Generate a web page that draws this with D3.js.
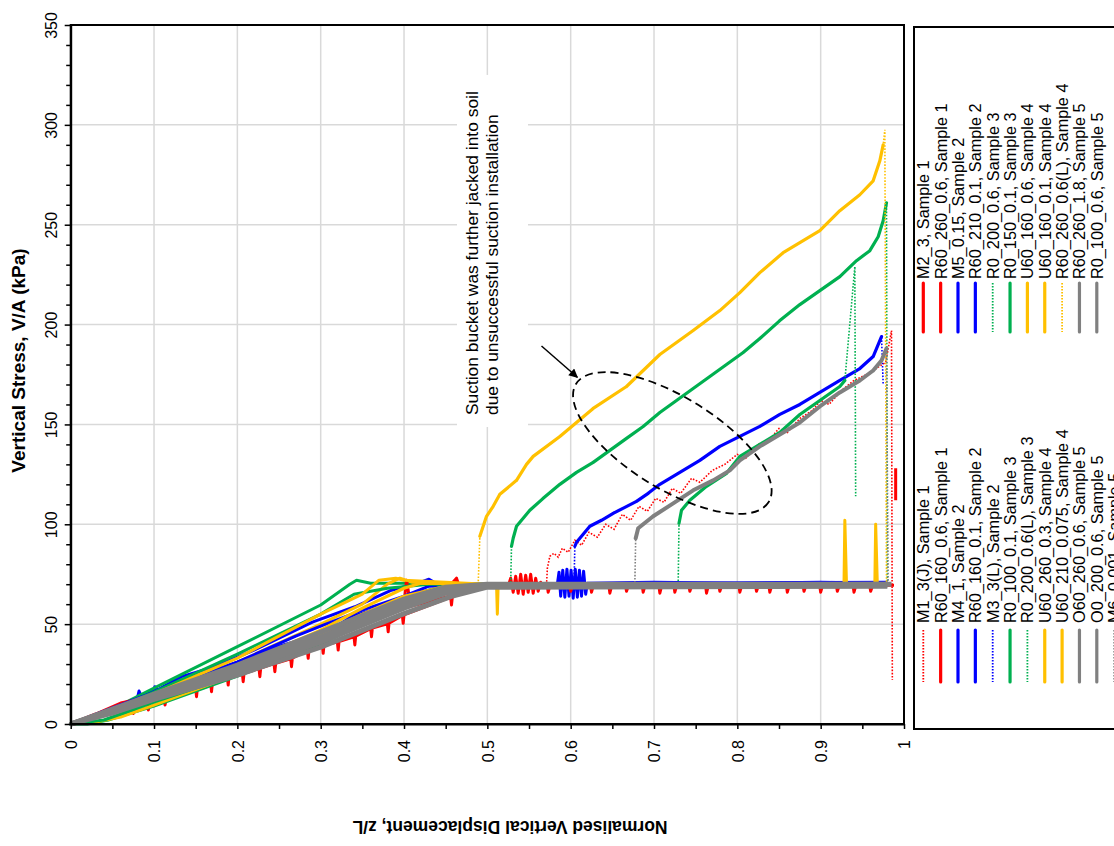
<!DOCTYPE html>
<html><head><meta charset="utf-8">
<script src="https://cdn.jsdelivr.net/npm/d3@7"></script>
<style>
body{margin:0;background:#fff;}
svg{display:block;font-family:"Liberation Sans",Arial,sans-serif;}
</style>
</head><body>
<svg id="c" width="1114" height="846"></svg>
<script>
// ---------- axis ticks ----------
const xTicks = [0,0.1,0.2,0.3,0.4,0.5,0.6,0.7,0.8,0.9,1];
const xTickLabels = ["0","0.1","0.2","0.3","0.4","0.5","0.6","0.7","0.8","0.9","1"];
const xMinor = [0.05,0.15,0.25,0.35,0.45,0.55,0.65,0.75,0.85,0.95];
const yTicks = [0,50,100,150,200,250,300,350];
const yMinor = [10,20,30,40,60,70,80,90,110,120,130,140,160,170,180,190,210,220,230,240,260,270,280,290,310,320,330,340];

const xTitle = "Normalised Vertical Displacement, z/L";
const yTitle = "Vertical Stress, V/A (kPa)";

// ---------- series names (legend order) ----------
const seriesNames = [
 "M1_3(J), Sample 1","R60_160_0.6, Sample 1","M4_1, Sample 2","R60_160_0.1, Sample 2","M3_3(L), Sample 2",
 "R0_100_0.1, Sample 3","R0_200_0.6(L), Sample 3","U60_260_0.3, Sample 4","U60_210_0.075, Sample 4",
 "O60_260_0.6, Sample 5","O0_200_0.6, Sample 5","M6_0.001, Sample 5",
 "M2_3, Sample 1","R60_260_0.6, Sample 1","M5_0.15, Sample 2","R60_210_0.1, Sample 2","R0_200_0.6, Sample 3",
 "R0_150_0.1, Sample 3","U60_160_0.6, Sample 4","U60_160_0.1, Sample 4","R60_260_0.6(L), Sample 4",
 "R60_260_1.8, Sample 5","R0_100_0.6, Sample 5"
];

// ---------- series values [z/L, kPa]; null = gap in record ----------
const M1_3J = [[0,0],[0.1,13],[0.2,26.5],[0.3,41.5],[0.4,58],[0.45,66],[0.5,69],[0.571,69.5],[0.572,78],[0.575,84],[0.58,85.5],[0.585,83.5],[0.59,88],[0.597,86],[0.605,92],[0.613,89.5],[0.622,96],[0.632,93.5],[0.642,100],[0.652,97.5],[0.662,105],[0.672,102],[0.682,109],[0.692,106.5],[0.702,113],[0.712,111],[0.722,118],[0.732,115.5],[0.745,123],[0.755,121],[0.77,127],[0.785,130],[0.8,135],[0.81,133],[0.825,140],[0.84,143],[0.85,148],[0.86,146],[0.875,153],[0.89,157],[0.9,162],[0.91,160],[0.925,167],[0.94,172],[0.95,174],[0.96,176],[0.97,179],[0.978,181],[0.985,197],[0.986,22]];
const R60_160_06 = [[0,0],[0.02,2.5],[0.05,6],[0.074,9.3],[0.0752,5.3],[0.077,9.5],[0.092,11],[0.0932,7],[0.095,11.3],[0.112,13.5],[0.1132,9.5],[0.115,13.8],[0.15,17.7],[0.151,13.7],[0.152,17.9],[0.168,20.2],[0.169,16.2],[0.17,20.5],[0.188,23.5],[0.189,19.5],[0.19,23.7],[0.206,25.2],[0.207,21.2],[0.208,25.4],[0.226,27.7],[0.227,23.7],[0.228,28],[0.244,30.2],[0.245,26.2],[0.246,30.4],[0.264,32.7],[0.265,28.7],[0.266,33],[0.284,36.9],[0.285,32.9],[0.286,37.1],[0.302,39.4],[0.303,35.4],[0.304,39.6],[0.32,41],[0.321,37],[0.322,41.3],[0.34,43.6],[0.341,39.6],[0.342,44],[0.36,47.7],[0.361,43.7],[0.362,48],[0.38,50.2],[0.381,46.2],[0.382,50.5],[0.398,54.4],[0.399,50.4],[0.4,54.6],[0.456,63.6],[0.457,59.6],[0.458,63.8],[0.49,68.5],[0.525,69],[0.528,73],[0.531,66],[0.534,74],[0.537,65.5],[0.54,75],[0.543,65],[0.546,74.5],[0.549,66],[0.552,75],[0.555,65.5],[0.558,73],[0.561,66.5],[0.564,71],[0.567,69],[0.975,69]];
const M4_1 = [[0,0],[0.02,3],[0.05,8],[0.08,13],[0.082,16.5],[0.085,13.5],[0.1,17],[0.101,18.7],[0.104,17],[0.133,23.7],[0.173,28.7],[0.22,37],[0.27,47],[0.29,51],[0.341,58.7],[0.385,67],[0.42,71],[0.43,72.5],[0.44,70],[0.5,70],[0.584,70],[0.586,76],[0.588,64],[0.5905,77],[0.593,63.5],[0.5955,77.5],[0.598,64],[0.6005,77],[0.603,63],[0.6055,77.5],[0.608,63.5],[0.6105,77],[0.613,64],[0.6155,76.5],[0.618,65],[0.62,70.5],[0.7,71],[0.8,70.5],[0.9,71],[0.975,70.5]];
const R60_160_01 = [[0,0],[0.1,13],[0.2,28],[0.3,44],[0.337,53.7],[0.381,59.6],[0.42,66],[0.45,69],[0.5,70],[0.98,70.5]];
const M3_3L = [[0,0],[0.1,13],[0.2,28],[0.3,45],[0.4,62],[0.45,68],[0.5,69.5],[0.604,70],[0.605,89],[0.607,91],[0.615,95],[0.623,99],[0.637,102],[0.651,105.5],[0.665,108.5],[0.679,111.5],[0.693,115.5],[0.707,120],[0.731,126],[0.755,132],[0.779,139],[0.803,144],[0.827,149],[0.851,155],[0.875,160],[0.899,166],[0.923,172],[0.947,178],[0.963,184],[0.973,194],[0.975,170]];
const R0_100_01 = [[0,0],[0.05,7.5],[0.1,18],[0.2,38.7],[0.3,59.6],[0.335,70],[0.343,72],[0.36,70.5],[0.4,70.5],[0.5,70],[0.98,70]];
const R0_200_06L = [[0,0],[0.02,0],[0.045,2],[0.1,9],[0.2,24],[0.3,40],[0.35,50],[0.4,60],[0.43,65],[0.45,68],[0.5,69.5],[0.528,70],[0.529,89],[0.531,93],[0.535,99],[0.551,107],[0.567,113],[0.587,120],[0.607,126],[0.627,131],[0.647,137],[0.667,143],[0.687,149],[0.707,156],[0.727,162],[0.747,168],[0.767,174],[0.787,180],[0.807,186],[0.827,193],[0.851,202],[0.875,210],[0.899,217],[0.923,224],[0.943,232],[0.959,237],[0.969,244],[0.975,252],[0.979,261],[0.98,70]];
const U60_260_03 = [[0,0],[0.03,1],[0.06,3.5],[0.1,9.5],[0.2,25],[0.3,41],[0.35,51],[0.4,60],[0.45,67],[0.5,69.5],[0.511,70],[0.512,55],[0.513,70],[0.975,70]];
const U60_210_0075 = [[0,0],[0.1,14],[0.2,31],[0.3,50],[0.35,60],[0.38,70],[0.395,73],[0.41,71],[0.5,70],[0.975,70]];
const O60_260_06 = [[0,0],[0.05,5.5],[0.1,12.3],[0.2,24.5],[0.3,38.5],[0.4,55.3],[0.457,63.9],[0.5,68.5],[0.98,69]];
const O0_200_06 = [[0,0],[0.05,6.5],[0.1,13.5],[0.2,26.5],[0.3,41],[0.4,58],[0.45,65.5],[0.5,69],[0.98,69.5]];
const M6_0001 = [[0,0],[0.1,13],[0.2,27],[0.3,42],[0.4,59],[0.46,67],[0.5,69.5],[0.677,70],[0.678,93],[0.681,98],[0.699,104],[0.723,110.5],[0.747,117],[0.771,122],[0.791,127],[0.803,132],[0.827,139],[0.851,145],[0.875,151],[0.899,159],[0.923,166],[0.947,172],[0.963,177],[0.973,182],[0.979,188],[0.981,70]];
const M2_3 = [[0,0],[0.03,5],[0.06,10.5],[0.1,14],[0.2,28],[0.3,42],[0.4,60],[0.403,72],[0.407,62],[0.45,67],[0.463,73],[0.467,68],[0.5,69.5],[0.572,69],[0.573,66],[0.575,69],[0.599,69],[0.6,66.5],[0.602,69],[0.624,69],[0.625,66],[0.627,69],[0.646,69],[0.647,65.5],[0.649,69],[0.666,69],[0.667,66.5],[0.669,69],[0.686,69],[0.687,66],[0.689,69],[0.706,69],[0.707,65.5],[0.709,69],[0.724,69],[0.725,66],[0.727,69],[0.742,69],[0.743,66.5],[0.745,69],[0.762,69],[0.763,65.5],[0.765,69],[0.778,69],[0.779,66.5],[0.781,69],[0.802,69],[0.803,66],[0.805,69],[0.822,69],[0.823,66.5],[0.825,69],[0.838,69],[0.839,66],[0.841,69],[0.859,69],[0.86,66],[0.862,69],[0.879,69],[0.88,66.5],[0.882,69],[0.899,69],[0.9,66],[0.902,69],[0.919,69],[0.92,66.5],[0.922,69],[0.939,69],[0.94,66],[0.942,69],[0.959,69],[0.96,66.5],[0.962,69],[0.978,69]];
const R60_260_06 = [[0,0],[0.1,12],[0.2,26],[0.3,41],[0.4,58],[0.5,69],[0.988,69.5],[0.99,null],[0.99,112],[0.99,128]];
const M5_015 = [[0,0],[0.05,8],[0.1,16],[0.15,24],[0.2,31],[0.25,39],[0.3,45],[0.35,55],[0.4,63],[0.45,69],[0.5,70],[0.98,70.5]];
const R60_210_01 = [[0,0],[0.1,15],[0.2,31],[0.27,44],[0.3,49],[0.35,57],[0.4,64],[0.43,69],[0.5,70],[0.98,71]];
const R0_200_06 = [[0,0],[0.04,2],[0.1,11],[0.2,25],[0.3,41],[0.35,51],[0.4,61],[0.43,67],[0.45,69],[0.5,70],[0.729,70],[0.73,100.5],[0.733,107],[0.743,112],[0.763,119],[0.787,125.5],[0.803,134],[0.827,140],[0.851,146],[0.875,155],[0.899,162],[0.923,169],[0.929,172],[0.941,229],[0.942,114]];
const R0_150_01 = [[0,0],[0.05,7],[0.1,16],[0.2,35],[0.3,55],[0.34,65],[0.38,68],[0.43,70],[0.5,70],[0.98,70]];
const U60_160_06 = [[0,0],[0.05,7],[0.1,15],[0.2,33],[0.3,55],[0.35,65],[0.37,72],[0.39,73],[0.4,72],[0.45,71],[0.5,70],[0.928,70],[0.929,102],[0.931,70],[0.975,70]];
const U60_160_01 = [[0,0],[0.1,13],[0.2,28],[0.3,45],[0.35,55],[0.4,64],[0.45,69],[0.5,70],[0.965,70],[0.966,100],[0.968,70],[0.975,70]];
const R60_260_06L = [[0,0],[0.1,13.5],[0.2,29],[0.3,47],[0.35,58],[0.4,68],[0.42,70.5],[0.489,70],[0.491,94],[0.499,104],[0.507,109],[0.515,115],[0.535,122],[0.547,130],[0.555,134],[0.587,144],[0.627,158],[0.667,169],[0.707,185],[0.747,197],[0.779,207],[0.803,216],[0.827,226],[0.855,236],[0.875,241],[0.899,247],[0.923,257],[0.947,265],[0.963,272],[0.971,282],[0.975,290],[0.977,297.5],[0.979,70]];
const R60_260_18 = [[0,0],[0.05,7.5],[0.1,15],[0.2,29.5],[0.3,46],[0.4,62.5],[0.45,68.5],[0.5,70],[0.98,70]];
const R0_100_06 = [[0,0],[0.05,7],[0.1,14.5],[0.2,28.5],[0.3,43.5],[0.4,60.5],[0.45,67.5],[0.5,69.5],[0.985,70]];

const seriesData = [M1_3J,R60_160_06,M4_1,R60_160_01,M3_3L,R0_100_01,R0_200_06L,U60_260_03,U60_210_0075,
  O60_260_06,O0_200_06,M6_0001,M2_3,R60_260_06,M5_015,R60_210_01,R0_200_06,R0_150_01,U60_160_06,U60_160_01,
  R60_260_06L,R60_260_18,R0_100_06];

// annotation (data units)
const noteLines = ["Suction bucket was further jacked into soil","due to unsuccessful suction installation"];
const noteX = [0.4888,0.5128], noteY = 154.7;
const noteBoxX = [0.4636,0.5488], noteBoxY = [148.7,325];
const arrowFrom = [0.565,189.3], arrowTo = [0.608,173.6];
const ellipseCenter = [0.722,140.7];

// ---------- styles ----------
const RED="#FF0000", BLUE="#0000FF", GREEN="#00B050", YELLOW="#FFC000", GRAY="#808080";
const seriesStyles = [
 {c:RED,dot:true,dense:false},{c:RED},{c:BLUE},{c:BLUE},{c:BLUE,dot:true,dense:true},
 {c:GREEN},{c:GREEN,dot:true,dense:true},{c:YELLOW},{c:YELLOW},
 {c:GRAY},{c:GRAY},{c:GRAY,dot:true,dense:true},
 {c:RED},{c:RED},{c:BLUE},{c:BLUE},{c:GREEN,dot:true,dense:true},
 {c:GREEN},{c:YELLOW},{c:YELLOW},{c:YELLOW,dot:true,dense:true},
 {c:GRAY},{c:GRAY}
];

const svg = d3.select("#c");
const x = d3.scaleLinear().domain([0,1]).range([70.7,904]);
const y = d3.scaleLinear().domain([0,350]).range([724,25]);

// grid
const grid = svg.append("g").attr("stroke","#D9D9D9").attr("stroke-width",1.5);
xTicks.filter(d=>d>0&&d<1).forEach(d=>grid.append("line").attr("x1",x(d)).attr("x2",x(d)).attr("y1",y(0)).attr("y2",y(350)));
yTicks.filter(d=>d>0&&d<350).forEach(d=>grid.append("line").attr("x1",x(0)).attr("x2",x(1)).attr("y1",y(d)).attr("y2",y(d)));

// white box behind annotation
svg.append("rect").attr("x",x(noteBoxX[0])).attr("y",y(noteBoxY[1]))
  .attr("width",x(noteBoxX[1])-x(noteBoxX[0])).attr("height",y(noteBoxY[0])-y(noteBoxY[1])).attr("fill","#fff");

// series
const plot = svg.append("g").attr("fill","none");
const line = d3.line().defined(d=>d[1]!==null).x(d=>x(d[0])).y(d=>y(d[1]));
const order = d3.range(seriesData.length).filter(i=>seriesStyles[i].c!==GRAY)
  .concat(d3.range(seriesData.length).filter(i=>seriesStyles[i].c===GRAY));
order.forEach(i=>{
  const st = seriesStyles[i], data = seriesData[i];
  const w = st.c===GRAY ? 5 : 3;
  if (!st.dot) {
    plot.append("path").attr("d",line(data)).attr("stroke",st.c).attr("stroke-width",w).attr("stroke-linejoin","round");
  } else {
    plot.append("path").attr("d",line(data)).attr("stroke",st.c).attr("stroke-width",1.6).attr("stroke-dasharray","1.6,1.6");
    if (st.dense) {
      let p = "";
      for (let k=1;k<data.length;k++){
        const x0=x(data[k-1][0]), y0=y(data[k-1][1]), x1=x(data[k][0]), y1=y(data[k][1]);
        if (Math.abs(y1-y0) <= 8*Math.abs(x1-x0)) p += `M${x0},${y0}L${x1},${y1}`;
      }
      plot.append("path").attr("d",p).attr("stroke",st.c).attr("stroke-width",st.c===GRAY?4:3.2).attr("stroke-linecap","round");
    }
  }
});

// axes
const gx = svg.append("g").attr("transform",`translate(0,${y(0)})`)
  .call(d3.axisBottom(x).tickValues(xTicks.concat(xMinor)).tickSize(5).tickSizeOuter(0)
    .tickFormat(d=>{const i=xTicks.indexOf(d); return i>=0?xTickLabels[i]:"";}));
const gy = svg.append("g").attr("transform",`translate(${x(0)},0)`)
  .call(d3.axisLeft(y).tickValues(yTicks.concat(yMinor)).tickSize(6).tickSizeOuter(0)
    .tickFormat(d=>yTicks.includes(d)?String(d):""));
[gx,gy].forEach(g=>{
  g.attr("font-family",null).attr("font-size",16);
  g.select(".domain").attr("stroke","#000").attr("stroke-width",2);
  g.selectAll(".tick line").attr("stroke","#000").attr("stroke-width",1.5);
  g.selectAll(".tick text").attr("fill","#000");
});
gy.selectAll(".tick").filter(d=>!yTicks.includes(d)).select("line").attr("x2",-4.5);
gx.selectAll(".tick text").attr("x",0).attr("y",0).attr("dy","0.36em")
  .attr("transform","translate(0,16) rotate(-90)").attr("text-anchor","end");
gy.selectAll(".tick text").attr("x",0).attr("y",0).attr("dy",0)
  .attr("transform","translate(-14,0) rotate(-90)").attr("text-anchor","middle");

// frame
svg.append("rect").attr("x",x(0)).attr("y",y(350)).attr("width",x(1)-x(0)).attr("height",y(0)-y(350))
  .attr("fill","none").attr("stroke","#000").attr("stroke-width",2);

// axis titles
svg.append("text").attr("transform",`translate(25,${(y(0)+y(350))/2-14}) rotate(-90)`)
  .attr("text-anchor","middle").attr("font-weight","bold").attr("font-size",19).text(yTitle);
svg.append("text").attr("transform",`translate(510,821) rotate(180)`)
  .attr("text-anchor","middle").attr("font-weight","bold").attr("font-size",17.5).text(xTitle);

// annotation
noteLines.forEach((t,k)=>{
  svg.append("text").attr("transform",`translate(${x(noteX[k])},${y(noteY)}) rotate(-90)`)
    .attr("font-size",17.4).attr("fill","#000").text(t);
});
svg.append("defs").append("marker").attr("id","ah").attr("viewBox","0 0 10 10").attr("refX",9).attr("refY",5)
  .attr("markerWidth",11).attr("markerHeight",9).attr("markerUnits","userSpaceOnUse").attr("orient","auto")
  .append("path").attr("d","M0,0L10,5L0,10z").attr("fill","#000");
svg.append("line").attr("x1",x(arrowFrom[0])).attr("y1",y(arrowFrom[1])).attr("x2",x(arrowTo[0])).attr("y2",y(arrowTo[1]))
  .attr("stroke","#000").attr("stroke-width",1.5).attr("marker-end","url(#ah)");
svg.append("ellipse").attr("transform",`translate(${x(ellipseCenter[0])},${y(ellipseCenter[1])}) rotate(31.5)`)
  .attr("rx",113).attr("ry",46).attr("fill","none").attr("stroke","#000").attr("stroke-width",1.8).attr("stroke-dasharray","8,5");

// legend
const leg = svg.append("g");
leg.append("rect").attr("x",914).attr("y",27).attr("width",260).attr("height",702)
  .attr("fill","none").attr("stroke","#000").attr("stroke-width",2);
seriesNames.forEach((name,i)=>{
  const grp = i<12?0:1, k = i<12?i:i-12;
  const lx = 923.3 + 17.35*k;
  const ly = grp===0?[630,682]:[283,332];
  const ty = grp===0?623:279;
  const st = seriesStyles[i];
  const l = leg.append("line").attr("x1",lx).attr("x2",lx).attr("y1",ly[0]).attr("y2",ly[1]).attr("stroke",st.c);
  if (st.dot) l.attr("stroke-width",1.8).attr("stroke-dasharray","1.5,1.5");
  else l.attr("stroke-width",3.2).attr("stroke-linecap","round");
  leg.append("text").attr("transform",`translate(${lx},${ty}) rotate(-90)`).attr("dy","0.36em")
    .attr("font-size",16.3).attr("fill","#000").text(name);
});
</script>
</body></html>
